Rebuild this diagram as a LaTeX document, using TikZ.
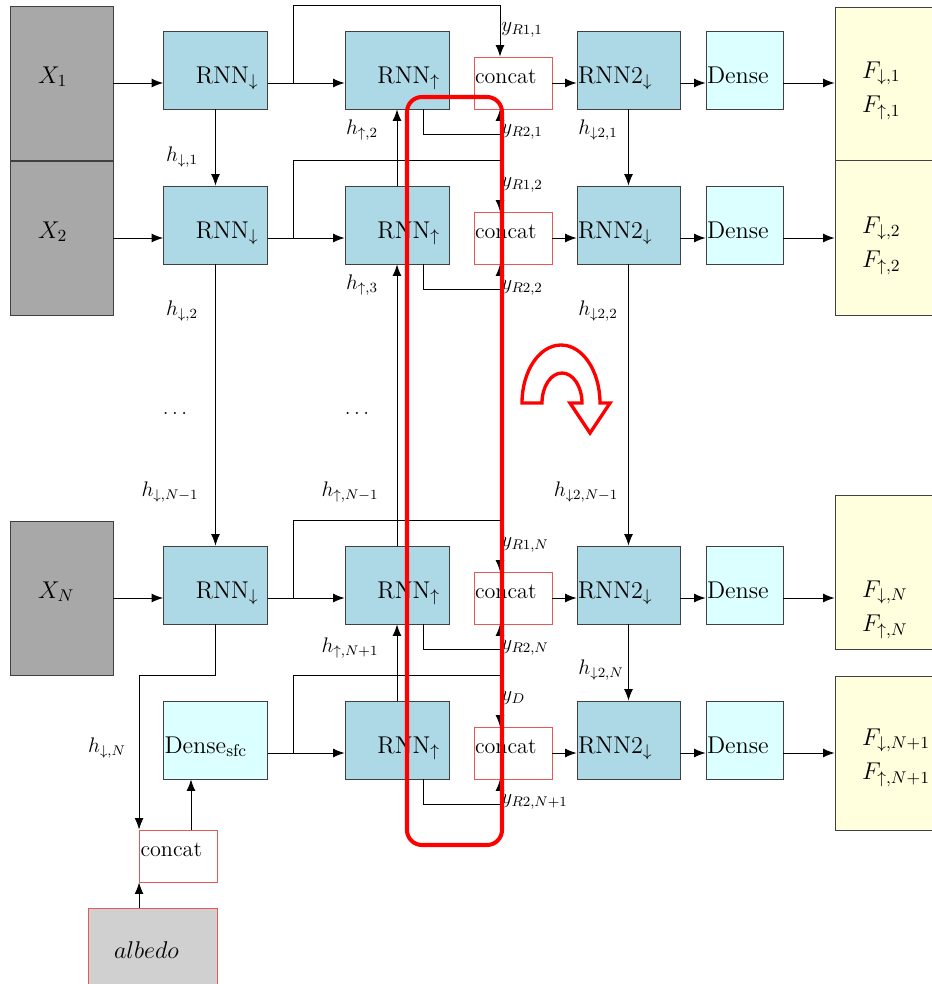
\RequirePackage{fix-cm}
\documentclass[tikz,border=0pt]{standalone}
\usetikzlibrary{arrows.meta}

\definecolor{rnnblue}{HTML}{ADD8E6}
\definecolor{densecyan}{HTML}{DCFFFF}
\definecolor{outyellow}{HTML}{FFFFDD}
\definecolor{ingray}{HTML}{A8A8A8}
\definecolor{albgray}{HTML}{D0D0D0}
\definecolor{catred}{HTML}{E05A5A}

\begin{document}
\begin{tikzpicture}[
  x=0.02cm, y=-0.02cm,
  line width=0.5pt,
  font=\fontsize{13.8}{19.8}\selectfont,
  box/.style={
    draw=black!75,
    anchor=base,
    inner ysep=0pt,
    inner xsep=0.02cm,
    align=left
  },
  rnnbox/.style={box, fill=rnnblue, text width=1.72cm, inner xsep=0.18cm,
    align=right, text height=1.04cm, text depth=0.52cm},
  rnntwo/.style={box, fill=rnnblue, text width=2.02cm,
    text height=1.04cm, text depth=0.52cm},
  densebox/.style={box, fill=densecyan, text width=1.5cm,
    text height=1.04cm, text depth=0.52cm},
  catbox/.style={box, draw=catred, text width=1.52cm,
    text height=0.52cm, text depth=0.52cm,
    font=\fontsize{12.6}{14}\selectfont},
  inbox/.style={box, fill=ingray, text width=0.94cm, inner xsep=0.56cm,
    text height=1.54cm, text depth=1.54cm},
  outbox/.style={box, fill=outyellow, text width=0.98cm, inner xsep=0.54cm},
  lbl/.style={font=\fontsize{12}{13}\selectfont, inner sep=0pt},
  arrow/.style={-{Latex[length=6.5pt, width=5pt]}}
]
\useasboundingbox (0,0) rectangle (932,984);

% --- Inputs ---
\node[inbox] (x1) at (61.5,83) {$X_1$};
\node[inbox] (x2) at (61.5,238) {$X_2$};
\node[inbox] (xn) at (61.5,598) {$X_N$};

% --- Downward RNN ---
\node[rnnbox] (rnnd1) at (215.5,83) {RNN$_\downarrow$};
\node[rnnbox] (rnnd2) at (215.5,238) {RNN$_\downarrow$};
\node[rnnbox] (rnndn) at (215.5,598) {RNN$_\downarrow$};
\node[densebox, text width=2.04cm] (densesfc) at (215.5,753) {Dense$_{\mathrm{sfc}}$};

% --- Upward RNN ---
\node[rnnbox] (rnnu1) at (397,83) {RNN$_\uparrow$};
\node[rnnbox] (rnnu2) at (397,238) {RNN$_\uparrow$};
\node[rnnbox] (rnnun) at (397,598) {RNN$_\uparrow$};
\node[rnnbox] (rnnulast) at (397,753) {RNN$_\uparrow$};

% --- Concat ---
\node[catbox] (cat1) at (513,83) {concat};
\node[catbox] (cat2) at (513,238) {concat};
\node[catbox] (catn) at (513,598) {concat};
\node[catbox] (catlast) at (513,753) {concat};

% --- Second RNN + Dense ---
\node[rnntwo] (rnntd1) at (628.5,83) {RNN2$_\downarrow$};
\node[rnntwo] (rnntd2) at (628.5,238) {RNN2$_\downarrow$};
\node[rnntwo] (rnntdn) at (628.5,598) {RNN2$_\downarrow$};
\node[rnntwo] (rnntdlast) at (628.5,753) {RNN2$_\downarrow$};

\node[densebox] (dense1) at (744.5,83) {Dense};
\node[densebox] (dense2) at (744.5,238) {Dense};
\node[densebox] (densen) at (744.5,598) {Dense};
\node[densebox] (denselast) at (744.5,753) {Dense};

% --- Outputs ---
\node[outbox, text height=1.42cm, text depth=1.64cm] (f1) at (886.5,78)
{$F_{\downarrow,1}$\\ $F_{\uparrow,1}$};
\node[outbox, text height=1.46cm, text depth=1.64cm] (f2) at (886.5,233)
{$F_{\downarrow,2}$\\ $F_{\uparrow,2}$};
\node[outbox, text height=2.04cm, text depth=1.04cm] (fn) at (886.5,597)
{$F_{\downarrow,N}$\\ $F_{\uparrow,N}$};
\node[outbox, text height=1.38cm, text depth=1.7cm] (flast) at (886.5,745)
{$F_{\downarrow,N+1}$\\ $F_{\uparrow,N+1}$};

% --- Surface input ---
\node[catbox] (catsfc) at (178.5,856) {concat};
\node[box, draw=catred, fill=albgray, text width=1.54cm, inner xsep=0.52cm,
  text height=1cm, text depth=1.2cm] (albedo) at (152.5,958) {$albedo$};

% --- Row connectors ---
\draw[arrow] (x1.base east) -- (rnnd1.base west);
\draw[arrow] (x2.base east) -- (rnnd2.base west);
\draw[arrow] (xn.base east) -- (rnndn.base west);

\draw[arrow] (rnnd1.base east) -- (rnnu1.base west);
\draw[arrow] (rnnd2.base east) -- (rnnu2.base west);
\draw[arrow] (rnndn.base east) -- (rnnun.base west);
\draw[arrow] (densesfc.base east) -- (rnnulast.base west);

\draw[arrow] (cat1.east) -- (rnntd1.base west);
\draw[arrow] (cat2.east) -- (rnntd2.base west);
\draw[arrow] (catn.east) -- (rnntdn.base west);
\draw[arrow] (catlast.east) -- (rnntdlast.base west);

\draw[arrow] (rnntd1.base east) -- (dense1.base west);
\draw[arrow] (rnntd2.base east) -- (dense2.base west);
\draw[arrow] (rnntdn.base east) -- (densen.base west);
\draw[arrow] (rnntdlast.base east) -- (denselast.base west);

\draw[arrow] (dense1.base east) -- (dense1.base east -| f1.west);
\draw[arrow] (dense2.base east) -- (dense2.base east -| f2.west);
\draw[arrow] (densen.base east) -- (densen.base east -| fn.west);
\draw[arrow] (denselast.base east) -- (denselast.base east -| flast.west);

% --- Skip paths into concat ---
\draw[arrow] ([xshift=0.52cm]rnnd1.base east) |- ([xshift=-0.26cm]cat1.north |- x1.north)
  -- ([xshift=-0.26cm]cat1.north);
\draw[arrow] ([xshift=0.52cm]rnnd2.base east) |- ([xshift=-0.26cm]cat2.north |- x2.north)
  -- ([xshift=-0.26cm]cat2.north);
\draw[arrow] ([xshift=0.52cm]rnndn.base east) |- ([xshift=-0.26cm]catn.north |- xn.north)
  -- ([xshift=-0.26cm]catn.north);
\draw[arrow] ([xshift=0.52cm]densesfc.base east) |- ([xshift=-0.26cm]catlast.north |- xn.south)
  -- ([xshift=-0.26cm]catlast.north);

\draw[arrow] ([xshift=0.52cm]rnnu1.south) -- ++(0,25) -| ([xshift=-0.26cm]cat1.south);
\draw[arrow] ([xshift=0.52cm]rnnu2.south) -- ++(0,25) -| ([xshift=-0.26cm]cat2.south);
\draw[arrow] ([xshift=0.52cm]rnnun.south) -- ++(0,25) -| ([xshift=-0.26cm]catn.south);
\draw[arrow] ([xshift=0.52cm]rnnulast.south) -- ++(0,25) -| ([xshift=-0.26cm]catlast.south);

% --- Hidden states ---
\draw[arrow] (rnnd1.south) -- (rnnd2.north);
\draw[arrow] (rnnd2.south) -- (rnndn.north);
\draw[arrow] (rnndn.south) -- (rnndn.south |- xn.south) -| (catsfc.north west);

\draw[arrow] (rnnu2.north) -- (rnnu1.south);
\draw[arrow] (rnnun.north) -- (rnnu2.south);
\draw[arrow] (rnnulast.north) -- (rnnun.south);

\draw[arrow] (rnntd1.south) -- (rnntd2.north);
\draw[arrow] (rnntd2.south) -- (rnntdn.north);
\draw[arrow] (rnntdn.south) -- (rnntdlast.north);

\draw[arrow] (catsfc.south west |- albedo.north) -- (catsfc.south west);
\draw[arrow] ([xshift=0.25cm]catsfc.north) -- ([xshift=0.25cm]catsfc.north |- densesfc.south);

% --- Labels ---
\node[lbl] (hd1) at (182,157) {$h_{\downarrow,1}$};
\node[lbl] (hd2) at (182,311) {$h_{\downarrow,2}$};
\node[lbl] (dotsd) at (175,413) {$\dots$};
\node[lbl] (hdnm) at (170,492) {$h_{\downarrow,N-1}$};
\node[lbl] (hdn) at (107,748) {$h_{\downarrow,N}$};

\node[lbl] (hu2) at (362,130) {$h_{\uparrow,2}$};
\node[lbl] (hu3) at (362,285) {$h_{\uparrow,3}$};
\node[lbl] (dotsu) at (357,413) {$\dots$};
\node[lbl] (hunm) at (350,492) {$h_{\uparrow,N-1}$};
\node[lbl] (hunp) at (350,648) {$h_{\uparrow,N+1}$};

\node[lbl, anchor=west] (yra1) at (501,30) {$y_{R1,1}$};
\node[lbl, anchor=west] (yrb1) at (501,132) {$y_{R2,1}$};
\node[lbl, anchor=west] (yra2) at (501,185) {$y_{R1,2}$};
\node[lbl, anchor=west] (yrb2) at (501,288) {$y_{R2,2}$};
\node[lbl, anchor=west] (yran) at (501,545) {$y_{R1,N}$};
\node[lbl, anchor=west] (yrbn) at (501,648) {$y_{R2,N}$};
\node[lbl, anchor=west] (yd) at (501,698) {$y_D$};
\node[lbl, anchor=west] (yrblast) at (501,802) {$y_{R2,N+1}$};

\node[lbl] (htd1) at (598,130) {$h_{\downarrow2,1}$};
\node[lbl] (htd2) at (598,311) {$h_{\downarrow2,2}$};
\node[lbl] (htdnm) at (586,492) {$h_{\downarrow2,N-1}$};
\node[lbl] (htdn) at (601,670) {$h_{\downarrow2,N}$};

% --- Highlight ---
\draw[red, line width=2.3pt, rounded corners=0.3cm] (407,97) rectangle (502,845);
\draw[red, line width=1.9pt] (522,403)
  arc[start angle=180, end angle=360, x radius=39, y radius=58]
  -- (610,403) -- (590,433) -- (570,403) -- (582,403)
  arc[start angle=0, end angle=-180, x radius=20, y radius=30] -- cycle;

\end{tikzpicture}
\end{document}
